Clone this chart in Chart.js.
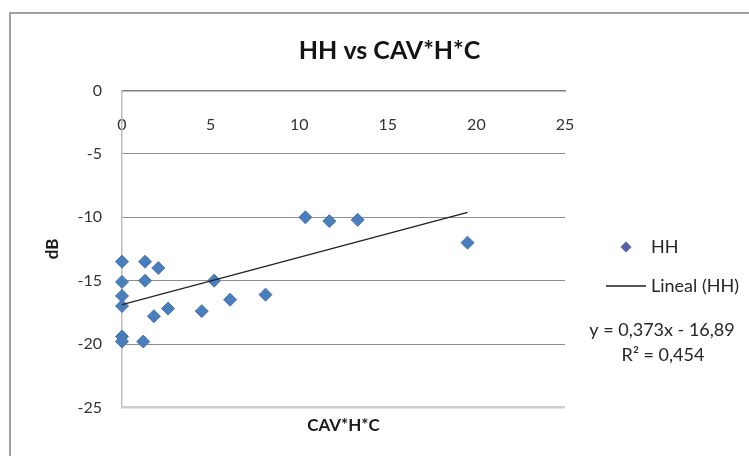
<!DOCTYPE html>
<html>
<head>
<meta charset="utf-8">
<script src="https://cdn.jsdelivr.net/npm/chart.js@4/dist/chart.umd.min.js"></script>
<style>
  html, body { margin: 0; padding: 0; background: #fff; overflow: hidden; }
  #frame { position: absolute; left: 9px; top: 12px; width: 790px; height: 490px; border: 2px solid #a2a2a2; }
  #c { position: absolute; left: 0; top: 0; }
</style>
</head>
<body>
<div id="frame"></div>
<canvas id="c" width="749" height="456"></canvas>
<script>
// HH backscatter (dB) against CAV*H*C
const cavHC = [0, 0, 0, 0, 0, 0, 1.3, 1.3, 2.05, 1.2, 1.8, 2.6, 4.5, 5.2, 6.1, 8.1, 10.35, 11.7, 13.3, 19.5];
const hhDb  = [-13.5, -15.1, -16.2, -17.0, -19.4, -19.8, -13.5, -15.0, -14.0, -19.8, -17.8, -17.2, -17.4, -15.0, -16.5, -16.1, -10.0, -10.3, -10.2, -12.0];

// Linear trend reported for the HH series
const trendSlope = 0.373;
const trendIntercept = -16.89;
const trendR2 = 0.454;

const xTicks = [0, 5, 10, 15, 20, 25];
const yTicks = [0, -5, -10, -15, -20, -25];

const POINT_COLOR = '#4A7EBB';
const TEXT_COLOR = '#262626';
const FONT = 'Lato, "Open Sans", sans-serif';

const points = cavHC.map((x, i) => ({ x, y: hhDb[i] }));
const xMin = Math.min(...cavHC);
const xMax = Math.max(...cavHC);
const trend = [xMin, xMax].map(x => ({ x, y: trendSlope * x + trendIntercept }));

const comma = (v, d) => v.toFixed(d).replace('.', ',');
const eqLine = 'y = ' + comma(trendSlope, 3) + 'x - ' + comma(-trendIntercept, 2);
const r2Line = 'R\u00B2 = ' + comma(trendR2, 3);

// small legend symbols
function makeIcon(w, h, draw) {
  const c = document.createElement('canvas');
  c.width = w; c.height = h;
  draw(c.getContext('2d'), w, h);
  return c;
}
const diamondIcon = makeIcon(14, 14, (g, w, h) => {
  g.fillStyle = '#5560A8';
  g.beginPath();
  g.moveTo(w / 2, 1.5); g.lineTo(w - 1.5, h / 2); g.lineTo(w / 2, h - 1.5); g.lineTo(1.5, h / 2);
  g.closePath(); g.fill();
});
const lineIcon = makeIcon(40, 4, (g, w, h) => {
  g.strokeStyle = '#1f1f1f';
  g.lineWidth = 1.3;
  g.beginPath(); g.moveTo(0, h / 2); g.lineTo(w, h / 2); g.stroke();
});

const equationText = {
  id: 'equationText',
  afterDraw(chart) {
    const lg = chart.legend;
    if (!lg || !lg.legendHitBoxes || lg.legendHitBoxes.length < 2) return;
    const hb = lg.legendHitBoxes[1];
    const ctx = chart.ctx;
    ctx.save();
    ctx.fillStyle = TEXT_COLOR;
    ctx.font = '18px ' + FONT;
    ctx.textAlign = 'center';
    ctx.textBaseline = 'middle';
    const cx = lg.left + 73;
    const y0 = hb.top + hb.height / 2 + 44;
    ctx.fillText(eqLine, cx, y0);
    ctx.fillText(r2Line, cx + 1, y0 + 25);
    ctx.restore();
  }
};

Chart.defaults.font.family = FONT;
Chart.defaults.color = TEXT_COLOR;

new Chart(document.getElementById('c'), {
  type: 'scatter',
  data: {
    datasets: [
      {
        label: 'HH',
        data: points,
        pointStyle: 'rectRot',
        pointRadius: 6.5,
        pointHoverRadius: 6.5,
        backgroundColor: POINT_COLOR,
        borderColor: '#4476B3',
        borderWidth: 1,
        clip: false,
        order: 1
      },
      {
        label: 'Lineal (HH)',
        type: 'line',
        data: trend,
        showLine: true,
        pointRadius: 0,
        borderColor: '#1f1f1f',
        borderWidth: 1.4,
        fill: false,
        order: 0
      }
    ]
  },
  options: {
    responsive: false,
    devicePixelRatio: 1,
    animation: false,
    layout: { padding: { top: 14, left: 30, right: 0, bottom: 0 } },
    plugins: {
      title: {
        display: true,
        text: 'HH vs CAV*H*C',
        color: '#141414',
        font: { size: 25, weight: 'bold' },
        padding: { top: 21.7, bottom: 24.8 }
      },
      legend: {
        position: 'right',
        fullSize: false,
        maxWidth: 160,
        title: { display: true, text: '', font: { size: 12 }, padding: { top: 0, bottom: 20.6 } },
        labels: {
          usePointStyle: true,
          pointStyleWidth: 32,
          padding: 21,
          color: TEXT_COLOR,
          font: { size: 18 },
          generateLabels(chart) {
            const ds = chart.data.datasets;
            return [
              { text: ds[0].label, pointStyle: diamondIcon, fillStyle: POINT_COLOR, strokeStyle: POINT_COLOR, lineWidth: 0, hidden: false, datasetIndex: 0, fontColor: TEXT_COLOR },
              { text: ds[1].label, pointStyle: lineIcon, fillStyle: '#1f1f1f', strokeStyle: '#1f1f1f', lineWidth: 1, hidden: false, datasetIndex: 1, fontColor: TEXT_COLOR }
            ];
          }
        }
      },
      tooltip: { enabled: false }
    },
    scales: {
      x: {
        type: 'linear',
        position: { y: 0 },
        min: xTicks[0],
        max: xTicks[xTicks.length - 1],
        afterBuildTicks(scale) { scale.ticks = xTicks.map(v => ({ value: v })); },
        grid: { display: false, drawTicks: false },
        border: { display: true, color: '#7d7d7d', width: 1.5 },
        ticks: { padding: 25, font: { size: 16 }, color: '#333' }
      },
      xTitle: {
        type: 'linear',
        axis: 'x',
        position: 'bottom',
        display: true,
        grid: { display: false, drawTicks: false },
        border: { display: false },
        ticks: { display: false },
        title: {
          display: true,
          text: 'CAV*H*C',
          color: '#1a1a1a',
          font: { size: 17, weight: 'bold' },
          padding: { top: 8, bottom: 20.1 }
        },
        afterFit(scale) { scale.height = 48.5; }
      },
      y: {
        type: 'linear',
        position: 'left',
        min: yTicks[yTicks.length - 1],
        max: yTicks[0],
        afterBuildTicks(scale) { scale.ticks = yTicks.slice().reverse().map(v => ({ value: v })); },
        grid: {
          drawTicks: false,
          color: c => c.tick.value === -25 ? '#cfcfcf' : (c.tick.value === 0 ? '#7d7d7d' : '#8e8e8e'),
          lineWidth: c => c.tick.value === -25 ? 2.5 : 1
        },
        border: { display: true, color: '#bdbdbd', width: 1.5 },
        ticks: { padding: 20, font: { size: 16 }, color: '#333' },
        title: {
          display: true,
          text: 'dB',
          color: '#1a1a1a',
          font: { size: 17, weight: 'bold' },
          padding: { top: 12.8, bottom: 0 }
        },
        afterFit(scale) { scale.width = 92; }
      },
      gap: {
        type: 'linear',
        axis: 'y',
        position: 'right',
        display: true,
        grid: { display: false, drawTicks: false },
        border: { display: false },
        ticks: { display: false },
        afterFit(scale) { scale.width = 24; }
      }
    }
  },
  plugins: [equationText]
});
</script>
</body>
</html>
